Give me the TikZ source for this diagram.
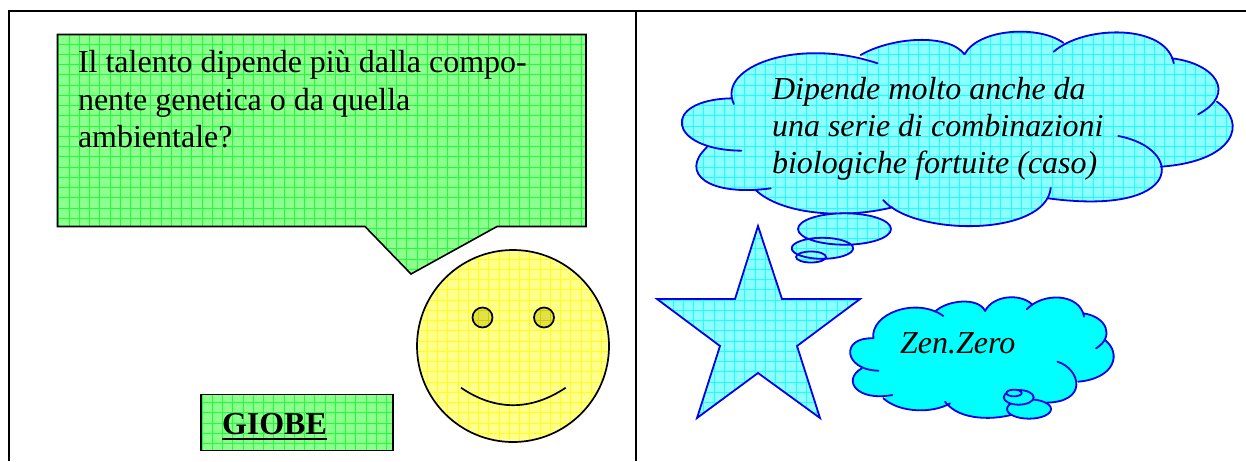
\documentclass[tikz,border=0pt]{standalone}
\usepackage{fontspec}
\setmainfont{Liberation Serif}
\definecolor{gfill}{RGB}{140,255,140}
\definecolor{gline}{RGB}{30,255,60}
\definecolor{cfill}{RGB}{140,255,255}
\definecolor{cline}{RGB}{30,255,255}
\definecolor{csolid}{RGB}{0,255,255}
\definecolor{yfill}{RGB}{255,255,140}
\definecolor{yline}{RGB}{255,255,30}
\definecolor{efill}{RGB}{226,226,70}
\definecolor{eline}{RGB}{205,205,0}
\definecolor{cblue}{RGB}{0,0,235}
\newcommand{\gridinner}[2]{%
  \begin{scope}[x=0.5pt,y=-0.5pt]
    \fill[#1] (0,0) rectangle (1246,461);
    \foreach \i in {0,...,122} {
      \pgfmathsetmacro{\gp}{round(7.1+10.24*\i)+0.5}
      \draw[#2,line width=0.5pt] (\gp,0) -- (\gp,461);
    }
    \foreach \i in {0,...,45} {
      \pgfmathsetmacro{\gp}{round(2.7+10.24*\i)+0.5}
      \draw[#2,line width=0.5pt] (0,\gp) -- (1246,\gp);
    }
  \end{scope}}
\newcommand{\gridfill}[3]{%
  \begin{scope}
    \clip #1;
    \gridinner{#2}{#3}
  \end{scope}}
\newcommand{\bubblepath}{(57.5,34.5) -- (586,34.5) -- (586,226.5) -- (497,226.5) -- (411,274) -- (365,226.5) -- (57.5,226.5) -- cycle}
\newcommand{\giobepath}{(201,394.5) rectangle (393,450.5)}
\newcommand{\starpath}{(758,226) -- (782,299) -- (860,299) -- (797,346) -- (820,418) -- (758,373) -- (697,418) -- (720,346) -- (657,299) -- (735,299) -- cycle}
\newcommand{\facepath}{(513,346) circle (96)}
\newcommand{\eyeapath}{(482.5,317.5) circle (10)}
\newcommand{\eyebpath}{(544,317.5) circle (10)}
\newcommand{\thoughtA}{(844.5,229) ellipse (46.5 and 15.7) (822.4,248.3) ellipse (30.7 and 10.5) (811,257) ellipse (15 and 5.5)}
\tikzset{
  frame/.style={draw=black,line width=1pt,line cap=butt},
  shapeline/.style={draw=black,line width=0.8pt,line join=miter},
  cloudline/.style={draw=cblue,line width=0.9pt,line cap=round},
  faceline/.style={draw=black,line width=0.85pt},
  talk/.style={anchor=base west,inner sep=0pt,outer sep=0pt,font=\fontsize{16}{18}\selectfont},
  talkit/.style={talk,font=\fontsize{16}{18}\selectfont\itshape},
  frameA/.style={x=0.1875pt,y=-0.16667pt,shift={(1760,60)}},
  frameB/.style={x=0.16667pt,y=-0.16667pt,shift={(2490,840)}},
  thoughtb/.style={cloudline,fill=csolid,frameB},
}
\newcommand{\cloudAlobes}[1]{
  (197,252) .. controls (150,140) and (370,50) .. (580,130) #1
  (535,105) .. controls (620,50) and (770,40) .. (812,103) #1
  (812,103) .. controls (850,25) and (1010,15) .. (1075,68) #1
  (1050,95) .. controls (1130,15) and (1350,10) .. (1370,130) #1
  (1365,115) .. controls (1480,130) and (1540,220) .. (1435,283) #1
  (1485,245) .. controls (1570,310) and (1530,425) .. (1335,440) #1
  (1222,348) .. controls (1400,385) and (1400,590) .. (1035,535) #1
  (1042,503) .. controls (1030,650) and (680,650) .. (595,540) #1
  (620,562) .. controls (480,600) and (320,580) .. (255,510) #1
  (295,505) .. controls (130,530) and (50,460) .. (125,382) #1
  (217,392) .. controls (20,390) and (0,240) .. (190,235) #1}
\newcommand{\cloudAcore}{(197,252) -- (580,130) -- (535,105) -- (812,103) -- (1075,68) -- (1050,95) -- (1370,130) -- (1365,115) -- (1435,283) -- (1485,245) -- (1335,440) -- (1222,348) -- (1035,535) -- (1042,503) -- (595,540) -- (620,562) -- (255,510) -- (295,505) -- (125,382) -- (217,392) -- (190,235) -- cycle}
\newcommand{\cloudBlobes}[1]{
  (130,175) .. controls (120,100) and (260,50) .. (340,108) #1
  (315,95) .. controls (350,60) and (445,50) .. (465,93) #1
  (465,93) .. controls (490,45) and (570,40) .. (605,72) #1
  (590,88) .. controls (640,35) and (750,40) .. (762,110) #1
  (760,100) .. controls (830,110) and (855,170) .. (798,205) #1
  (825,180) .. controls (875,220) and (855,295) .. (745,305) #1
  (682,245) .. controls (750,265) and (780,370) .. (640,368) #1
  (345,365) .. controls (390,425) and (500,420) .. (560,400) #1
  (160,355) .. controls (210,400) and (310,400) .. (360,370) #1
  (187,345) .. controls (80,365) and (35,300) .. (95,265) #1
  (145,272) .. controls (40,270) and (30,170) .. (130,175) #1}
\newcommand{\cloudBcore}{(130,175) -- (340,108) -- (315,95) -- (465,93) -- (605,72) -- (590,88) -- (762,110) -- (760,100) -- (798,205) -- (825,180) -- (745,305) -- (682,245) -- (640,368) -- (560,400) -- (345,365) -- (360,370) -- (160,355) -- (187,345) -- (95,265) -- (145,272) -- (130,175) -- cycle}
\begin{document}
\begin{tikzpicture}[x=0.5pt,y=-0.5pt]
\useasboundingbox (0,0) rectangle (1246,461);
\fill[white] (0,0) rectangle (1246,461);
% table rules
\coordinate (tl) at (9,461);
\coordinate (tt) at (9,11);
\coordinate (tr) at (1246,11);
\coordinate (mt) at (635.5,11);
\coordinate (mb) at (635.5,461);
\draw[frame] (tl) -- (tt) -- (tr);
\draw[frame] (mt) -- (mb);
% speech bubble
\gridfill{\bubblepath}{gfill}{gline}
\draw[shapeline] \bubblepath;
\node[talk] (q1) at (78,72.5) {Il talento dipende più dalla compo-};
\node[talk] (q2) at (78,110) {nente genetica o da quella};
\node[talk] (q3) at (78,147) {ambientale?};
% name box
\gridfill{\giobepath}{gfill}{gline}
\draw[shapeline] \giobepath;
\node[talk,font=\fontsize{16}{18}\selectfont\bfseries] (name) at (222,434) {GIOBE};
\draw[black,line width=0.85pt] (222,439) -- (327,439);
% face
\gridfill{\facepath}{yfill}{yline}
\draw[faceline] \facepath;
\gridfill{\eyeapath}{efill}{eline}
\draw[faceline] \eyeapath;
\gridfill{\eyebpath}{efill}{eline}
\draw[faceline] \eyebpath;
\draw[faceline] (461,387.7) .. controls (495,411) and (531,411) .. (565.7,387.7);
% star
\gridfill{\starpath}{cfill}{cline}
\draw[cloudline,line join=miter] \starpath;
% cloud 1
\begin{scope}
  \clip[frameA] \cloudAlobes{-- cycle} \cloudAcore;
  \gridinner{cfill}{cline}
\end{scope}
\draw[cloudline,frameA] \cloudAlobes{};
% thought bubbles of cloud 1
\gridfill{\thoughtA}{cfill}{cline}
\draw[cloudline] \thoughtA;
\node[talkit] (a1) at (772,99) {Dipende molto anche da};
\node[talkit] (a2) at (772,136) {una serie di combinazioni};
\node[talkit] (a3) at (772,173) {biologiche fortuite (caso)};
% cloud 2
\fill[csolid,frameB] \cloudBlobes{-- cycle} \cloudBcore;
\draw[cloudline,frameB] \cloudBlobes{};
\draw[thoughtb] (597,387) ellipse (66 and 29);
\draw[thoughtb] (566,352) ellipse (45 and 22);
\draw[thoughtb] (552,339) ellipse (23 and 10);
\node[talkit] (b1) at (900,353) {Zen.Zero};
\end{tikzpicture}
\end{document}
